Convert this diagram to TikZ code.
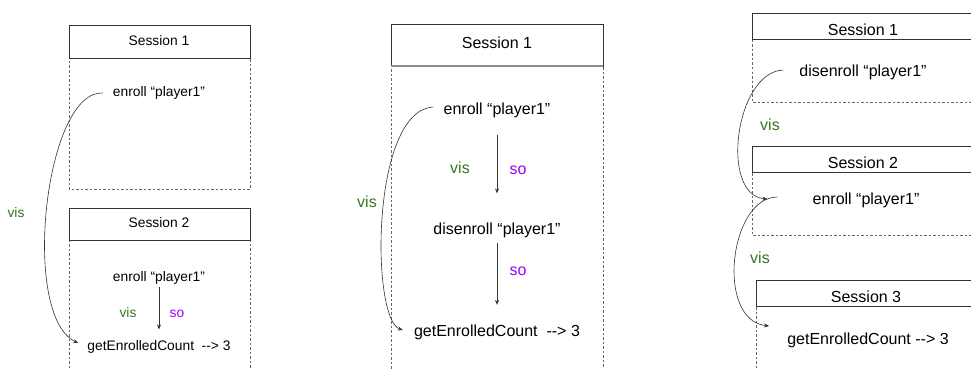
\documentclass[tikz,border=0pt]{standalone}
\usepackage{fontspec}
\setmainfont{Liberation Sans}
\usepackage{xcolor}
\usetikzlibrary{arrows.meta,calc,positioning}
\definecolor{visgreen}{RGB}{56,118,29}
\definecolor{sopurple}{RGB}{153,0,255}
\tikzset{%
	frame/.style   = {draw=black!60, dash pattern=on 2.5pt off 2pt, line width=0.6pt},
	header/.style  = {draw=black!80, line width=0.7pt},
	txtA/.style    = {inner sep=2pt, font=\fontsize{13.8}{16}\selectfont},
	txtB/.style    = {inner sep=2pt, font=\fontsize{16}{19}\selectfont},
	vis/.style     = {text=visgreen},
	so/.style      = {text=sopurple},
	arrow/.style   = {-{Stealth[length=5pt,width=4pt]}, draw=black!80, line width=0.6pt},
}

\begin{document}
\begin{tikzpicture}[x=1pt,y=-1pt]
	\useasboundingbox (0,0) rectangle (971,369);
	\clip (0,0) rectangle (971,369);
	% first history: two sessions
	\draw[frame] (69,25) rectangle (250,189);
	\draw[header] (69,25) rectangle (250,58);
	\draw[frame] (69,208) rectangle (250,375);
	\draw[header] (69,208) rectangle (250,240);
	\node[txtA] (s11) at (159,41) {Session 1};
	\node[txtA] (s12) at (159,223) {Session 2};
	\node[txtA] (e11) at (159,93) {enroll “player1”};
	\node[txtA] (e12) at (159,278) {enroll “player1”};
	\node[txtA] (g1) at (159,347) {getEnrolledCount\ \ {-}{-}> 3};
	\draw[arrow] (e11.west) ++(-8,0) .. controls +(-58,-3) and +(-58,-27) .. ([xshift=-7pt,yshift=4pt]g1.west);
	\draw[arrow, shorten >=9pt] (e12.south) -- (g1.north);
	\node[txtA, vis] (v11) at (16,213) {vis};
	\node[txtA, vis] (v12) at (128,313) {vis};
	\node[txtA, so] (o11) at (177,314) {so};
	% second history: one session
	\draw[frame] (391,24) rectangle (603,375);
	\draw[header] (391,24) rectangle (603,66);
	\draw[draw=black!45, line width=1.4pt] (391,66) -- (603,66);
	\node[txtB] (s21) at (497,43) {Session 1};
	\node[txtB] (e21) at (497,110) {enroll “player1”};
	\node[txtB] (d21) at (497,230) {disenroll “player1”};
	\node[txtB] (g2) at (497,332) {getEnrolledCount\ \ {-}{-}> 3};
	\draw[arrow] ([xshift=-8pt,yshift=3pt]e21.west) .. controls +(-63,3) and +(-32,-10) .. ([xshift=-9pt,yshift=2pt]g2.west);
	\draw[arrow, shorten <=15pt, shorten >=27pt] (e21.south) -- (d21.north);
	\draw[arrow, shorten <=3.5pt, shorten >=17.5pt] (d21.south) -- (g2.north);
	\node[txtB, vis] (v21) at (367,202) {vis};
	\node[txtB, vis] (v22) at (460,168) {vis};
	\node[txtB, so] (o21) at (518,170) {so};
	\node[txtB, so] (o22) at (518,271) {so};
	% third history: three sessions
	\draw[frame] (752,13) rectangle (990,102);
	\draw[header] (752,13) rectangle (990,39);
	\draw[frame] (752,146) rectangle (990,235);
	\draw[header] (752,146) rectangle (990,172);
	\draw[frame] (756,280) rectangle (990,375);
	\draw[header] (756,280) rectangle (990,306);
	\node[txtB] (s31) at (863,30) {Session 1};
	\node[txtB] (s32) at (863,163) {Session 2};
	\node[txtB] (s33) at (866,297) {Session 3};
	\node[txtB] (d31) at (863,72) {disenroll “player1”};
	\node[txtB] (e32) at (866,200) {enroll “player1”};
	\node[txtB] (g3) at (868,340) {getEnrolledCount {-}{-}> 3};
	\draw[arrow] ([xshift=-14pt,yshift=2pt]d31.west) .. controls +(-48,2) and +(-48,-4) .. ([xshift=-43pt,yshift=1pt]e32.west);
	\draw[arrow] ([xshift=-33pt,yshift=3pt]e32.west) .. controls +(-48,0) and +(-54,-6) .. ([xshift=-16pt,yshift=14pt]g3.west);
	\node[txtB, vis] (v31) at (770,125) {vis};
	\node[txtB, vis] (v32) at (760,258) {vis};
\end{tikzpicture}
\end{document}
